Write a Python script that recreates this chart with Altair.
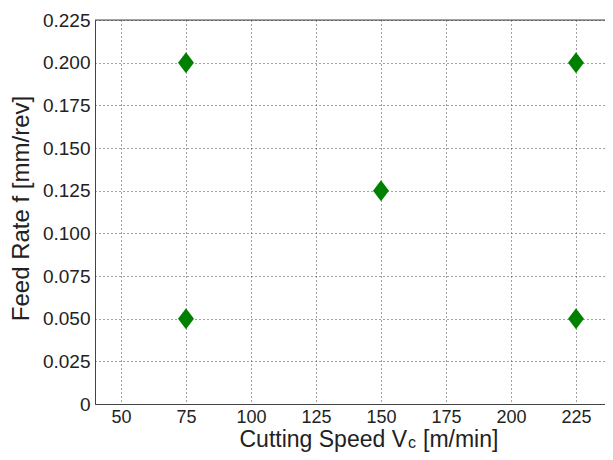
import altair as alt
import pandas as pd

speed = [75, 75, 150, 225, 225]
feed = [0.200, 0.050, 0.125, 0.200, 0.050]
x_ticks = [50, 75, 100, 125, 150, 175, 200, 225]
y_ticks = [0, 0.025, 0.05, 0.075, 0.1, 0.125, 0.15, 0.175, 0.2, 0.225]

df = pd.DataFrame({"speed": speed, "feed": feed})

W, H = 510, 384
FONT = "Liberation Sans"
AX = "#444444"

diamond = "M0,-1L0.76,0L0,1L-0.76,0Z"

points = alt.Chart(df).mark_point(
    shape=diamond, filled=True, size=441, color="#008000", opacity=1
).encode(
    x=alt.X("speed:Q", scale=alt.Scale(domain=[40, 236.15], nice=False, zero=False),
            axis=alt.Axis(values=x_ticks, title=None, grid=True, gridDash=[1, 3],
                          gridColor="#444444", gridOpacity=1, domainColor=AX,
                          ticks=False, tickSize=0, labelFontSize=18, labelFont=FONT,
                          labelColor="#222222", labelPadding=4, labelFlush=False)),
    y=alt.Y("feed:Q", scale=alt.Scale(domain=[0, 0.225], nice=False),
            axis=alt.Axis(values=y_ticks, title="Feed Rate f [mm/rev]", grid=True,
                          gridDash=[1, 3], gridColor="#444444", gridOpacity=1,
                          domainColor=AX, ticks=False, tickSize=0,
                          labelFontSize=19, labelFont=FONT, labelColor="#222222",
                          labelPadding=5, labelFlush=False,
                          labelExpr="datum.value == 0 ? '0' : format(datum.value, '.3f')",
                          titleFont=FONT, titleFontSize=24, titleFontWeight="normal",
                          titleColor="#222222", titleAngle=270, titleX=-67, titleY=188,
                          titleAlign="center", titleBaseline="alphabetic")),
)

top = alt.Chart(pd.DataFrame({"a": [0]})).mark_rule(color=AX, strokeWidth=1).encode(
    y=alt.value(0), x=alt.value(0), x2=alt.value(W)
)

def label(txt, x, y, size, align):
    return alt.Chart(pd.DataFrame({"t": [txt]})).mark_text(
        font=FONT, fontSize=size, align=align, baseline="alphabetic", color="#222222"
    ).encode(text="t:N", x=alt.value(x), y=alt.value(y))

xt1 = label("Cutting Speed V", 312, 427, 23, "right")
xt2 = label("c", 313, 428, 16, "left")
xt3 = label("[m/min]", 328, 427, 23, "left")

chart = alt.layer(points, top, xt1, xt2, xt3).properties(
    width=W, height=H,
    autosize=alt.AutoSizeParams(type="none"),
    padding={"left": 87, "top": 12, "right": 0, "bottom": 48},
).configure_view(stroke=None).configure(background="white")

chart.save("out.html", embed_options={"renderer": "svg", "actions": False})
